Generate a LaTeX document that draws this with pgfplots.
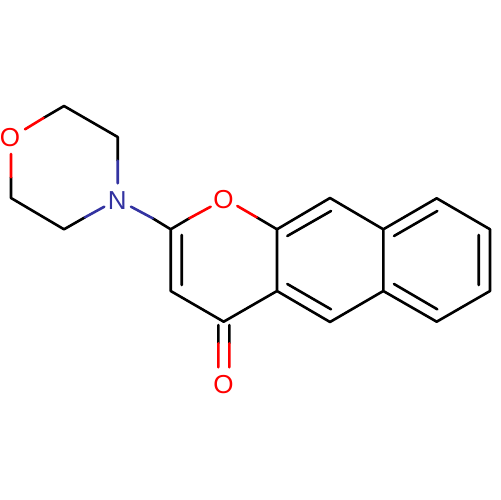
\documentclass[border=0pt]{standalone}
\usepackage{fontspec}
\setmainfont{Liberation Sans}
\usepackage{pgfplots}
\pgfplotsset{compat=1.18}
\definecolor{atomred}{rgb}{1,0,0}
\definecolor{atomblue}{rgb}{0.2,0.2,0.63}
\begin{document}
\begin{tikzpicture}[x=1bp,y=1bp]
\path[use as bounding box] (0,0) rectangle (500,500);
\begin{axis}[
  at={(0,0)},anchor=south west,
  width=500bp,height=500bp,scale only axis,
  xmin=0,xmax=500,ymin=0,ymax=500,y dir=reverse,
  hide axis,unbounded coords=jump,clip=false,
  every axis plot/.append style={no markers,line width=2.6bp,line cap=round,line join=round},
]
% black bonds
\addplot[black] coordinates {
(43.5,118)(64,106)(117.7,137)(117.7,160.7) (nan,nan)
(85,217.3)(64,229.3)(11,198)(11,177.3) (nan,nan)
(152.7,218.3)(170.7,229.3)(189.3,218.3) (nan,nan)
(170.7,229.3)(170.7,291)(223.7,321.7)(277,291)(277,229.3)(256.7,217.3) (nan,nan)
(181.7,235)(181.7,285) (nan,nan)
(277,229.3)(330,198)(383.3,229.3)(436.7,198.3)(490,229.3)(490,291)(436.7,321.7)(383.3,291)(330,322)(277,291) (nan,nan)
(383.3,229.3)(383.3,291) (nan,nan)
(287.3,236)(331,211) (nan,nan)
(287.3,284)(331,309.3) (nan,nan)
(394,236)(437.3,211) (nan,nan)
(394,284)(437.3,309.3) (nan,nan)
(478.7,235)(478.7,285) (nan,nan)
(218.3,325)(218.3,343.3) (nan,nan)
(229.3,325)(229.3,343.3)
};
% red bonds
\addplot[atomred] coordinates {
(25,129.3)(43.5,118) (nan,nan)
(11,177.3)(11,154) (nan,nan)
(189.3,218.3)(210.7,206.7) (nan,nan)
(237.3,206)(256.7,217.3) (nan,nan)
(218.3,343.3)(218.3,367.3) (nan,nan)
(229.3,343.3)(229.3,367.3)
};
% blue bonds
\addplot[atomblue] coordinates {
(117.7,160.7)(117.7,183.3) (nan,nan)
(104.3,206.7)(85,217.3) (nan,nan)
(131,206.7)(152.7,218.3)
};
\node[text=atomred,font=\fontsize{26bp}{26bp}\selectfont,inner sep=0pt] at (axis cs:10,137.5) {O};
\node[text=atomred,font=\fontsize{26bp}{26bp}\selectfont,inner sep=0pt] at (axis cs:223.5,200) {O};
\node[text=atomred,font=\fontsize{26bp}{26bp}\selectfont,inner sep=0pt] at (axis cs:223.5,384.5) {O};
\node[text=atomblue,font=\fontsize{26bp}{26bp}\selectfont,inner sep=0pt] at (axis cs:117.3,201) {N};
\end{axis}
\end{tikzpicture}
\end{document}
